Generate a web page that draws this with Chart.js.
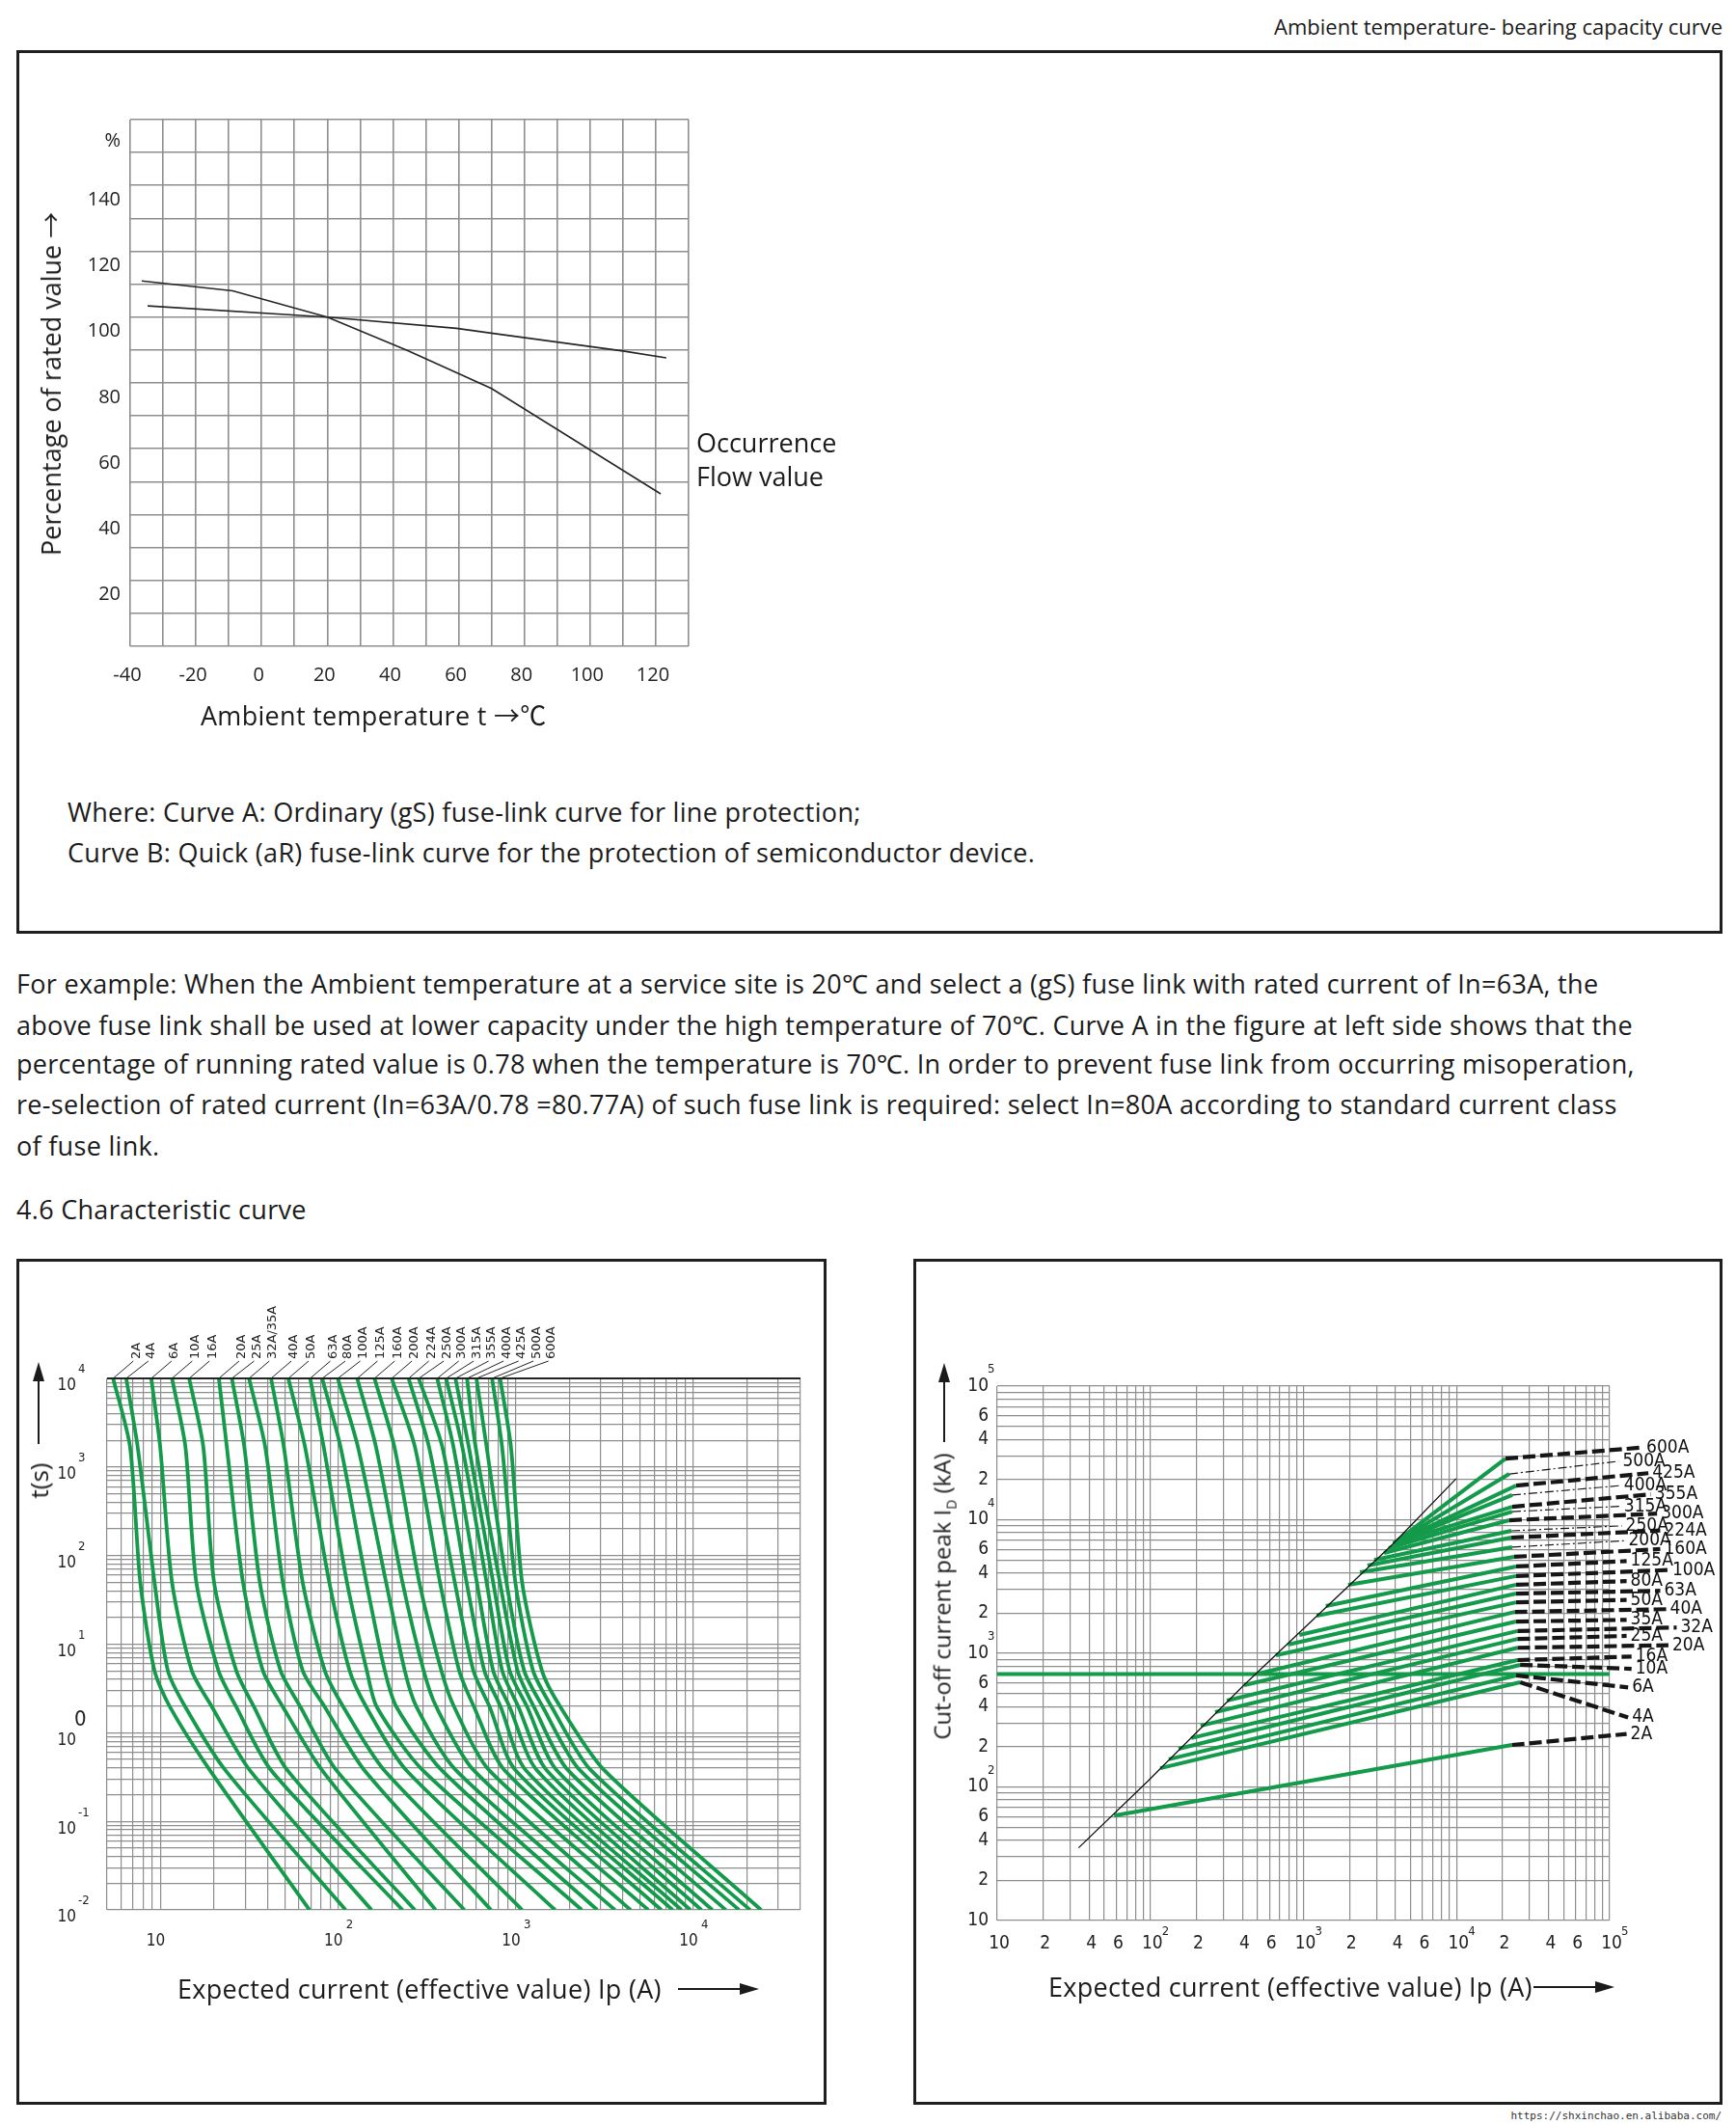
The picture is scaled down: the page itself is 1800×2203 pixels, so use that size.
<!DOCTYPE html>
<html>
<head>
<meta charset="utf-8">
<title>Fuse link characteristic curves</title>
<script src="https://cdn.jsdelivr.net/npm/chart.js@4.4.1/dist/chart.umd.min.js"></script>
<style>
  body { margin:0; width:1800px; height:2203px; position:relative; background:#fff; color:#1b1b1b;
         font-family:"Open Sans","Noto Sans",sans-serif; overflow:hidden; }
  .txt { position:absolute; white-space:nowrap; line-height:1; }
  .rot { position:absolute; white-space:nowrap; line-height:1; transform:translate(-50%,-50%) rotate(-90deg); }
  .box { position:absolute; border:3px solid #1f1f1f; box-sizing:border-box; }
  .para { font-size:27px; letter-spacing:0.3px; }
  .cjk { font-family:"Noto Sans CJK SC",sans-serif; }
  canvas { position:absolute; }
</style>
</head>
<body>
<div class="txt" style="right:14px;top:16px;font-size:22px">Ambient temperature- bearing capacity curve</div>
<div class="box" style="left:17px;top:52px;width:1769px;height:916px"></div>
<canvas id="derating" width="880" height="700" style="left:20px;top:90px"></canvas>
<div class="rot" style="left:52px;top:398px;font-size:27px">Percentage of rated value <span class="cjk">→</span></div>
<div class="txt para" style="left:208px;top:727px">Ambient temperature t <span class="cjk">→℃</span></div>
<div class="txt" style="left:722px;top:445px;font-size:27px">Occurrence</div>
<div class="txt" style="left:722px;top:480px;font-size:27px">Flow value</div>
<div class="txt para" style="left:70px;top:828px">Where: Curve A: Ordinary (gS) fuse-link curve for line protection;</div>
<div class="txt para" style="left:70px;top:870px">Curve B: Quick (aR) fuse-link curve for the protection of semiconductor device.</div>

<div class="txt para" style="left:17px;top:1006px">For example: When the Ambient temperature at a service site is 20℃ and select a (gS) fuse link with rated current of In=63A, the</div>
<div class="txt para" style="left:17px;top:1049px">above fuse link shall be used at lower capacity under the high temperature of 70℃. Curve A in the figure at left side shows that the</div>
<div class="txt para" style="left:17px;top:1089px">percentage of running rated value is 0.78 when the temperature is 70℃. In order to prevent fuse link from occurring misoperation,</div>
<div class="txt para" style="left:17px;top:1131px">re-selection of rated current (In=63A/0.78 =80.77A) of such fuse link is required: select In=80A according to standard current class</div>
<div class="txt para" style="left:17px;top:1174px">of fuse link.</div>
<div class="txt para" style="left:17px;top:1240px">4.6 Characteristic curve</div>

<div class="box" style="left:17px;top:1305px;width:840px;height:877px"></div>
<canvas id="timeCurrent" width="834" height="871" style="left:20px;top:1308px"></canvas>
<div class="rot" style="left:40px;top:1535px;font-size:26px">t(s)</div>
<div class="txt para" style="left:184px;top:2048px">Expected current (effective value) Ip (A)</div>

<div class="box" style="left:947px;top:1305px;width:839px;height:877px"></div>
<canvas id="cutOff" width="834" height="871" style="left:950px;top:1308px"></canvas>
<div class="rot" style="left:979px;top:1655px;font-size:24px">Cut-off current peak I<sub style="font-size:14px">D</sub> (kA)</div>
<div class="txt para" style="left:1087px;top:2046px">Expected current (effective value) Ip (A)</div>

<div class="txt" style="right:15px;top:2188px;font-size:11px;font-family:'DejaVu Sans Mono',monospace;color:#333">https://shxinchao.en.alibaba.com/</div>

<script>
// ---------- ambient temperature / bearing capacity ----------
var tempA = [-36.5, -8.8, 20, 44.5, 70, 121.5];
var pctA  = [111, 108, 100, 89.8, 78.3, 46.3];
var tempB = [-34.7, 20, 59.3, 69.4, 110, 123.2];
var pctB  = [103.4, 100, 96.6, 95.2, 89.7, 87.6];
var tempTicks = [-40, -20, 0, 20, 40, 60, 80, 100, 120];
var pctTicks = [20, 40, 60, 80, 100, 120, 140];

// ---------- time-current characteristic (gS) ----------
var tcRatings = ['2A','4A','6A','10A','16A','20A','25A','32A/35A','40A','50A','63A','80A','100A',
                 '125A','160A','200A','224A','250A','300A','315A','355A','400A','425A','500A','600A'];
var tcTimes = [10000, 1700, 50, 5, 1.95, 0.38, 0.01];
// current (A) of each curve at the times above
var tcCurrents = [
  [5.41, 6.73, 7.69, 9.25, 11.3, 18.9, 68.9],
  [6.41, 7.43, 9.25, 11.0, 13.8, 23.1, 110],
  [8.87, 9.95, 11.6, 15.0, 19.5, 31.7, 154],
  [11.6, 13.8, 15.9, 21.2, 26.7, 41.8, 230],
  [14.5, 17.4, 20.0, 26.7, 33.6, 51.6, 270],
  [21.3, 23.6, 29.1, 37.7, 48.9, 80.9, 353],
  [25.2, 29.6, 36.2, 47.4, 61.4, 97.3, 513],
  [31.5, 38.8, 48.8, 63.2, 84.1, 140, 724],
  [41.9, 49.4, 63.1, 84.1, 107, 181, 1084],
  [52.4, 65.0, 89.1, 116, 144, 241, 1663],
  [69.5, 82.8, 112, 145, 165, 298, 2350],
  [81.3, 103, 144, 183, 213, 381, 2870],
  [99.5, 129, 186, 237, 276, 458, 3610],
  [128, 163, 230, 303, 357, 577, 4420],
  [160, 207, 286, 381, 450, 705, 5560],
  [200, 270, 374, 480, 582, 861, 6590],
  [249, 324, 453, 577, 713, 993, 7620],
  [284, 385, 528, 665, 822, 1135, 8550],
  [361, 445, 603, 746, 923, 1309, 9590],
  [405, 499, 684, 838, 1035, 1486, 11070],
  [457, 543, 745, 923, 1159, 1694, 12760],
  [531, 593, 813, 1023, 1265, 1959, 15170],
  [600, 684, 885, 1114, 1419, 2286, 18030],
  [735, 836, 993, 1250, 1592, 2636, 20800],
  [815, 938, 1084, 1403, 1782, 3133, 23990]
];
var tcTimeExp = [-2, -1, 0, 1, 2, 3, 4];
var tcCurrentExp = [2, 3, 4];

// ---------- cut-off current ----------
var cutRatings = ['2A','4A','6A','10A','16A','20A','25A','32A','35A','40A','50A','63A','80A','100A',
                  '125A','160A','200A','224A','250A','300A','315A','355A','400A','425A','500A','600A'];
var cutStartX = [58,116,132,153,185,213,265,316,410,510,661,790,940,1220,1400,1960,2340,2620,2900,3360,3610,3880,3880,3880,3880,3880];
var cutStartY = [61,138,161,193,232,287,363,443,578,706,968,1160,1370,1910,2260,3260,4040,4540,5000,5630,6120,6650,6650,6650,6650,6650];
var cutEndX = [23000,26000,24500,26000,25000,25000,25000,25000,24500,24000,24500,24500,24500,24500,24500,23800,23100,22800,22800,22100,23100,23100,23100,24500,22100,20900];
var cutEndY = [206,607,683,820,890,1100,1280,1470,1730,2040,2410,2800,3260,3790,4470,5280,6230,7350,8260,9910,11500,12500,15300,18000,22000,28700];
var cutDashX = [129000,132000,132000,139000,139000,242000,129000,274000,129000,234000,129000,214000,129000,242000,
                129000,214000,125000,214000,120000,204000,117000,186000,117000,179000,114600,164000];
var cutDashY = [249,331,556,766,946,1150,1350,1560,1780,2140,2510,2940,3470,4200,4900,6030,6970,8300,9000,11100,
                12600,15500,18000,22300,27400,34700];
var cutThin = ['200A','250A','315A','400A','500A'];
var limitX = [34, 96, 410, 3880, 9950];
var limitY = [35, 110, 580, 6650, 20300];
var flatY = 700;
var cutExp = [2, 3, 4, 5];

var FONT = '"Open Sans", "Noto Sans", sans-serif';
var NARROW = '"Liberation Sans Narrow", "Arial Narrow", "DejaVu Sans Condensed", "Liberation Sans", sans-serif';
var GREEN = '#139a4a';
var GRID = '#8e8e8e';

function range(a, b, step) {
  var out = [];
  for (var v = a; v <= b; v += step) out.push({ value: v });
  return out;
}
function logTicks(min, max) {
  var out = [];
  for (var e = Math.floor(Math.log10(min)); e <= Math.ceil(Math.log10(max)); e++) {
    for (var m = 1; m <= 9; m++) {
      var v = parseFloat((m * Math.pow(10, e)).toPrecision(6));
      if (v >= min * 0.9999 && v <= max * 1.0001) out.push({ value: v });
    }
  }
  return out;
}
function mant(v) {
  return Math.round(v / Math.pow(10, Math.floor(Math.log10(v) + 1e-9)));
}
function pts(xs, ys) {
  return xs.map(function (x, i) { return { x: x, y: ys[i] }; });
}
function arrow(ctx, x1, y1, x2, y2) {
  var a = Math.atan2(y2 - y1, x2 - x1), len = 20, w = 6;
  ctx.save();
  ctx.strokeStyle = '#1b1b1b'; ctx.fillStyle = '#1b1b1b'; ctx.lineWidth = 2;
  ctx.beginPath(); ctx.moveTo(x1, y1);
  ctx.lineTo(x2 - Math.cos(a) * len, y2 - Math.sin(a) * len); ctx.stroke();
  ctx.beginPath(); ctx.moveTo(x2, y2);
  ctx.lineTo(x2 - Math.cos(a) * len - Math.sin(a) * w, y2 - Math.sin(a) * len + Math.cos(a) * w);
  ctx.lineTo(x2 - Math.cos(a) * len + Math.sin(a) * w, y2 - Math.sin(a) * len - Math.cos(a) * w);
  ctx.closePath(); ctx.fill();
  ctx.restore();
}

// ---------------- chart 1 ----------------
var percentSign = {
  id: 'percentSign',
  afterDraw: function (chart) {
    var ctx = chart.ctx, a = chart.chartArea;
    ctx.save();
    ctx.font = '20px ' + FONT; ctx.fillStyle = '#222';
    ctx.textAlign = 'right'; ctx.textBaseline = 'middle';
    ctx.fillText('%', a.left - 10, chart.scales.y.getPixelForValue(153.5));
    ctx.restore();
  }
};

new Chart(document.getElementById('derating'), {
  type: 'line',
  data: {
    datasets: [
      { label: 'Curve A', data: pts(tempA, pctA), borderColor: '#262626', borderWidth: 1.6, pointRadius: 0 },
      { label: 'Curve B', data: pts(tempB, pctB), borderColor: '#262626', borderWidth: 1.6, pointRadius: 0 }
    ]
  },
  options: {
    responsive: false, animation: false,
    layout: { padding: { left: 0, top: 34, right: 186, bottom: 0 }, autoPadding: false },
    plugins: { legend: { display: false }, tooltip: { enabled: false } },
    scales: {
      x: {
        type: 'linear', min: -40, max: 130,
        afterBuildTicks: function (s) { s.ticks = range(-40, 130, 10); },
        afterFit: function (s) { s.height = 120; },
        ticks: { autoSkip: false, maxRotation: 0, padding: 18, labelOffset: -3, color: '#222',
                 font: { family: FONT, size: 20 },
                 callback: function (v) { return tempTicks.indexOf(v) >= 0 ? String(v) : ''; } },
        grid: { color: GRID, lineWidth: 1.6, drawTicks: false }, border: { display: false }
      },
      y: {
        type: 'linear', min: 0, max: 160,
        afterBuildTicks: function (s) { s.ticks = range(0, 160, 10); },
        afterFit: function (s) { s.width = 115; },
        ticks: { autoSkip: false, padding: 10, labelOffset: 15, color: '#222',
                 font: { family: FONT, size: 20 },
                 callback: function (v) { return pctTicks.indexOf(v) >= 0 ? String(v) : ''; } },
        grid: { color: GRID, lineWidth: 1.6, drawTicks: false }, border: { display: false }
      }
    }
  },
  plugins: [percentSign]
});

// ---------------- chart 2 ----------------
var tcDecor = {
  id: 'tcDecor',
  afterDraw: function (chart) {
    var ctx = chart.ctx, a = chart.chartArea, xs = chart.scales.x, ys = chart.scales.y;
    ctx.save();
    ctx.strokeStyle = '#222'; ctx.lineWidth = 2;
    ctx.beginPath(); ctx.moveTo(a.left, a.top); ctx.lineTo(a.right, a.top); ctx.stroke();

    ctx.fillStyle = '#222'; ctx.textBaseline = 'middle'; ctx.textAlign = 'left';
    tcTimeExp.forEach(function (e) {
      var y = ys.getPixelForValue(Math.pow(10, e));
      if (e === 0) { ctx.font = '22px ' + NARROW; ctx.fillText('0', a.left - 34, y - 13); }
      else { ctx.font = '13px ' + NARROW; ctx.fillText(String(e), a.left - 30, y - 9); }
    });
    ctx.font = '13px ' + NARROW;
    tcCurrentExp.forEach(function (e) {
      ctx.fillText(String(e), xs.getPixelForValue(Math.pow(10, e)) + 8, a.bottom + 16);
    });

    // rating labels above the curves
    ctx.font = '13px "DejaVu Sans", sans-serif';
    ctx.strokeStyle = '#222'; ctx.lineWidth = 1;
    var prev = -Infinity;
    tcRatings.forEach(function (name, i) {
      var topX = xs.getPixelForValue(tcCurrents[i][0]);
      var lx = Math.max(topX + 24, prev + 15.5);
      prev = lx;
      ctx.beginPath(); ctx.moveTo(lx - 3, a.top - 18); ctx.lineTo(topX, a.top); ctx.stroke();
      ctx.save();
      ctx.translate(lx, a.top - 20); ctx.rotate(-Math.PI / 2);
      ctx.textAlign = 'left'; ctx.textBaseline = 'middle';
      ctx.fillText(name, 0, 0);
      ctx.restore();
    });
    ctx.restore();

    arrow(ctx, a.left - 71, a.top + 68, a.left - 71, a.top - 17);
    arrow(ctx, a.left + 592, a.bottom + 82, a.left + 676, a.bottom + 82);
  }
};

new Chart(document.getElementById('timeCurrent'), {
  type: 'line',
  data: {
    datasets: tcRatings.map(function (name, i) {
      return { label: name, data: pts(tcCurrents[i], tcTimes), borderColor: GREEN, borderWidth: 3.8,
               pointRadius: 0, tension: 0.25 };
    })
  },
  options: {
    responsive: false, animation: false,
    layout: { padding: { left: 0, top: 121, right: 24, bottom: 0 }, autoPadding: false },
    plugins: { legend: { display: false }, tooltip: { enabled: false } },
    scales: {
      x: {
        type: 'logarithmic', min: 5, max: 40000,
        afterBuildTicks: function (s) { s.ticks = logTicks(5, 40000); },
        afterFit: function (s) { s.height = 199; },
        ticks: { autoSkip: false, maxRotation: 0, padding: 22, labelOffset: -5, color: '#222',
                 font: { family: NARROW, size: 17 },
                 callback: function (v) { return mant(v) === 1 ? '10' : ''; } },
        grid: { color: GRID, lineWidth: 1.2, drawTicks: false }, border: { display: false }
      },
      y: {
        type: 'logarithmic', min: 0.01, max: 10000,
        afterBuildTicks: function (s) { s.ticks = logTicks(0.01, 10000); },
        afterFit: function (s) { s.width = 91; },
        ticks: { autoSkip: false, padding: 32, labelOffset: 8, color: '#222',
                 font: { family: NARROW, size: 17 },
                 callback: function (v) { return mant(v) === 1 ? '10' : ''; } },
        grid: { color: GRID, lineWidth: 1.2, drawTicks: false }, border: { display: false }
      }
    }
  },
  plugins: [tcDecor]
});

// ---------------- chart 3 ----------------
var cutDecor = {
  id: 'cutDecor',
  afterDraw: function (chart) {
    var ctx = chart.ctx, a = chart.chartArea, xs = chart.scales.x, ys = chart.scales.y;
    ctx.save();
    ctx.fillStyle = '#222'; ctx.textAlign = 'left'; ctx.textBaseline = 'middle';
    ctx.font = '13px ' + NARROW;
    cutExp.forEach(function (e) {
      var v = Math.pow(10, e);
      ctx.fillText(String(e), a.left - 10, ys.getPixelForValue(v) - 17);
      ctx.fillText(String(e), xs.getPixelForValue(v) + 12, a.bottom + 12);
    });
    ctx.font = '19px ' + NARROW; ctx.fillStyle = '#111';
    cutRatings.forEach(function (name, i) {
      ctx.fillText(name, xs.getPixelForValue(cutDashX[i]) + 4, ys.getPixelForValue(cutDashY[i]));
    });
    ctx.restore();
    arrow(ctx, a.left - 55, a.top + 58, a.left - 55, a.top - 24);
    arrow(ctx, a.left + 556, a.bottom + 69, a.left + 640, a.bottom + 69);
  }
};

var cutSets = [];
cutRatings.forEach(function (name, i) {
  var thin = cutThin.indexOf(name) >= 0;
  cutSets.push({ label: name + ' ext', data: [{ x: cutEndX[i], y: cutEndY[i] }, { x: cutDashX[i], y: cutDashY[i] }],
                 borderColor: '#161616', borderWidth: thin ? 1.2 : 4.2, borderDash: thin ? [9, 3, 2, 3] : [13, 5],
                 pointRadius: 0, clip: false });
});
cutSets.push({ label: 'limit', data: pts(limitX, limitY), borderColor: '#111', borderWidth: 1.3, pointRadius: 0 });
cutRatings.forEach(function (name, i) {
  cutSets.push({ label: name, data: [{ x: cutStartX[i], y: cutStartY[i] }, { x: cutEndX[i], y: cutEndY[i] }],
                 borderColor: GREEN, borderWidth: 4, pointRadius: 0, clip: false });
});
cutSets.push({ label: 'flat', data: [{ x: 10, y: flatY }, { x: 100000, y: flatY }], borderColor: GREEN, borderWidth: 4, pointRadius: 0 });

function cutLabel(v) {
  var m = mant(v);
  if (m === 1) return '10';
  return (m === 2 || m === 4 || m === 6) ? String(m) : '';
}

new Chart(document.getElementById('cutOff'), {
  type: 'line',
  data: { datasets: cutSets },
  options: {
    responsive: false, animation: false,
    layout: { padding: { left: 0, top: 129, right: 115, bottom: 0 }, autoPadding: false },
    plugins: { legend: { display: false }, tooltip: { enabled: false } },
    scales: {
      x: {
        type: 'logarithmic', min: 10, max: 100000,
        afterBuildTicks: function (s) { s.ticks = logTicks(10, 100000); },
        afterFit: function (s) { s.height = 188; },
        ticks: { autoSkip: false, maxRotation: 0, padding: 13, labelOffset: 2, color: '#222',
                 font: { family: NARROW, size: 19 }, callback: cutLabel },
        grid: { color: GRID, lineWidth: 1.2, drawTicks: false }, border: { display: false }
      },
      y: {
        type: 'logarithmic', min: 10, max: 100000,
        afterBuildTicks: function (s) { s.ticks = logTicks(10, 100000); },
        afterFit: function (s) { s.width = 84; },
        ticks: { autoSkip: false, padding: 9, color: '#222',
                 font: { family: NARROW, size: 19 }, callback: cutLabel },
        grid: { color: GRID, lineWidth: 1.2, drawTicks: false }, border: { display: false }
      }
    }
  },
  plugins: [cutDecor]
});
</script>
</body>
</html>
